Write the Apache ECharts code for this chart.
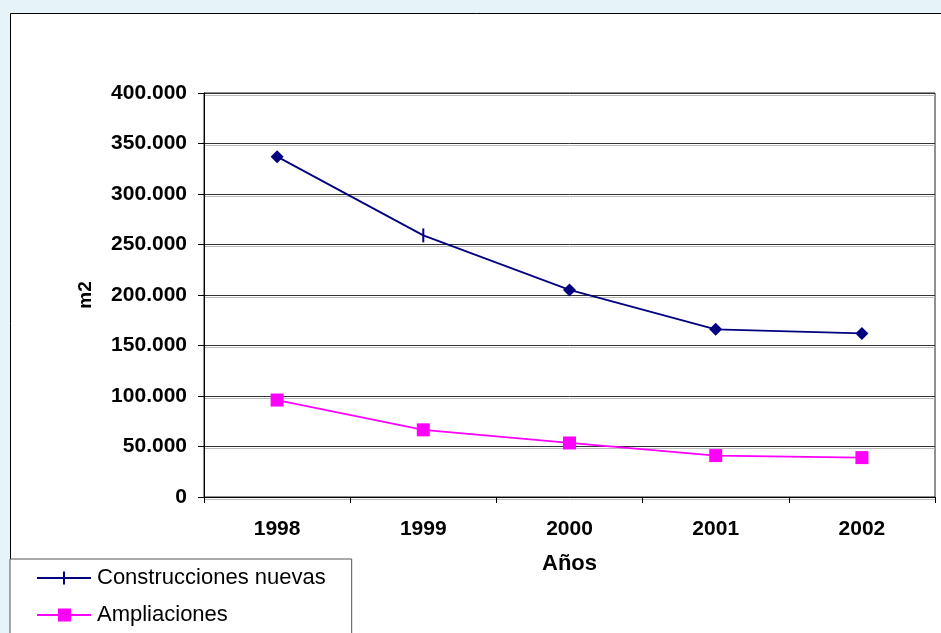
<!DOCTYPE html>
<html>
<head>
<meta charset="utf-8">
<title>Construcciones</title>
<script src="https://cdn.jsdelivr.net/npm/echarts@6/dist/echarts.min.js"></script>
<style>
  html, body { margin: 0; padding: 0; background: #E6F4FA; }
  #chart { width: 941px; height: 633px; }
</style>
</head>
<body>
<div id="chart"></div>
<script>
// datos
var years = ['1998', '1999', '2000', '2001', '2002'];
var nuevas = [337000, 259000, 205000, 166000, 162000];
var ampliaciones = [96000, 66500, 53500, 41000, 39000];
var yTicks = [0, 50000, 100000, 150000, 200000, 250000, 300000, 350000, 400000];

var tickPath = 'path://M0,0 L2,0 L2,14 L0,14 Z';

function miles(v) {
  return String(v).replace(/\B(?=(\d{3})+(?!\d))/g, '.');
}

var myChart = echarts.init(document.getElementById('chart'));
var option = {
  backgroundColor: '#E6F4FA',
  animation: false,
  textStyle: { fontFamily: '"Liberation Sans", Arial, sans-serif' },
  graphic: [{
    type: 'rect',
    z: -10,
    shape: { x: 10.5, y: 13.5, width: 940, height: 640 },
    style: { fill: '#fff', stroke: '#000', lineWidth: 1 }
  }],
  grid: {
    left: 204, right: 6, top: 93, bottom: 136,
    show: true, borderColor: '#222', borderWidth: 1, backgroundColor: 'transparent'
  },
  legend: {
    orient: 'vertical',
    left: 10, top: 559,
    height: 200,
    padding: [7, 26, 30, 27],
    itemGap: 13,
    itemWidth: 54, itemHeight: 13,
    borderColor: '#555', borderWidth: 1,
    backgroundColor: '#fff',
    textStyle: { fontSize: 22, color: '#000', lineHeight: 24, padding: [0, 0, 0, 1] },
    data: [
      { name: 'Construcciones nuevas', icon: 'path://M0,5.6 L54,5.6 L54,7.4 L0,7.4 Z M26,0 L28,0 L28,13 L26,13 Z' },
      { name: 'Ampliaciones', icon: 'path://M0,5.5 L54,5.5 L54,7.5 L0,7.5 Z M21,0 L34,0 L34,13 L21,13 Z' }
    ]
  },
  xAxis: {
    type: 'category',
    data: years,
    boundaryGap: true,
    name: 'Años',
    nameLocation: 'middle',
    nameGap: 56,
    nameTextStyle: { fontSize: 22, fontWeight: 'bold', color: '#000' },
    axisLine: { lineStyle: { color: '#000', width: 1 } },
    axisTick: { show: true, length: 6, lineStyle: { color: '#000' } },
    axisLabel: { fontSize: 21, fontWeight: 'bold', color: '#000', margin: 22 },
    splitLine: { show: false }
  },
  yAxis: {
    type: 'value',
    min: yTicks[0],
    max: yTicks[yTicks.length - 1],
    interval: 50000,
    name: 'm2',
    nameLocation: 'middle',
    nameGap: 109,
    nameTextStyle: { fontSize: 19, fontWeight: 'bold', color: '#000' },
    axisLine: { show: true, lineStyle: { color: '#000', width: 1 } },
    axisTick: { show: true, length: 6, lineStyle: { color: '#000' } },
    axisLabel: { fontSize: 21, fontWeight: 'bold', color: '#000', margin: 17, formatter: miles },
    splitLine: {
      show: true,
      lineStyle: { color: '#333', width: 1, shadowColor: '#bbb', shadowOffsetY: 2, shadowBlur: 0 }
    }
  },
  series: [{
    name: 'Construcciones nuevas',
    type: 'line',
    color: '#000080',
    symbol: 'diamond',
    symbolSize: 13,
    lineStyle: { color: '#000080', width: 1.8 },
    itemStyle: { color: '#000080' },
    data: nuevas.map(function (v, i) {
      return i === 1 ? { value: v, symbol: tickPath, symbolSize: [2, 14] } : v;
    })
  }, {
    name: 'Ampliaciones',
    type: 'line',
    color: '#FF00FF',
    symbol: 'rect',
    symbolSize: 13,
    lineStyle: { color: '#FF00FF', width: 1.8 },
    itemStyle: { color: '#FF00FF' },
    data: ampliaciones
  }]
};
myChart.setOption(option);
</script>
</body>
</html>
